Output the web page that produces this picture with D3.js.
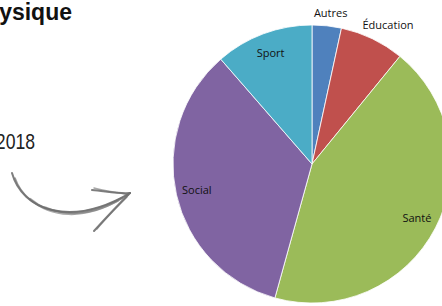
<!DOCTYPE html>
<html lang="fr">
<head>
    <meta charset="UTF-8">
    <title>Répartition 2018</title>
    <script src="https://d3js.org/d3.v7.min.js"></script>
    <style>
        body { margin: 0; background: #fff; }
        svg { display: block; }
    </style>
</head>
<body>
    <svg width="442" height="306"></svg>

    <script>
        // Données (parts en %)
        const categories = ["Autres", "Éducation", "Santé", "Social", "Sport"];
        const values = [3.4, 7.5, 43.4, 34.3, 11.4];
        const colors = ["#4F81BD", "#C0504D", "#9BBB59", "#8064A2", "#4BACC6"];
        const titleText = "ysique";
        const yearText = "2018";

        const svg = d3.select("svg");
        const cx = 312, cy = 164, radius = 139;

        // Titre (coupé à gauche dans l'original)
        svg.append("text")
            .attr("x", 72)
            .attr("y", 20)
            .attr("text-anchor", "end")
            .style("font-family", "'Liberation Sans', Arial, sans-serif")
            .style("font-weight", "bold")
            .style("font-size", "23px")
            .style("fill", "#111")
            .text(titleText);

        // Année en police étroite (simulée par un étirement horizontal)
        svg.append("text")
            .attr("transform", "translate(35,149) scale(0.8,1)")
            .attr("text-anchor", "end")
            .style("font-family", "'Liberation Sans', Arial, sans-serif")
            .style("font-size", "22px")
            .style("fill", "#222")
            .text(yearText);

        // Flèche dessinée à la main
        const arrow = svg.append("g")
            .attr("fill", "none")
            .attr("stroke", "#707070")
            .attr("stroke-linecap", "round");

        const strokes = [
            { d: "M12,173 C22,210 70,228 130,193", w: 2, o: 0.9 },
            { d: "M15,178 C27,212 72,226 128,195", w: 1.6, o: 0.7 },
            { d: "M30,199 C50,216 82,222 122,198", w: 2.4, o: 0.6 },
            { d: "M45,207 C65,216 90,216 118,201", w: 1.8, o: 0.5 },
            { d: "M92,190 C105,191 118,194 130,193", w: 2, o: 0.9 },
            { d: "M94,188 C108,192 120,192 128,195", w: 1.5, o: 0.6 },
            { d: "M130,193 C118,205 104,220 94,231", w: 2, o: 0.9 },
            { d: "M127,197 C116,208 106,218 97,229", w: 1.5, o: 0.6 }
        ];
        arrow.selectAll("path")
            .data(strokes)
            .join("path")
            .attr("d", d => d.d)
            .attr("stroke-width", d => d.w)
            .attr("stroke-opacity", d => d.o);

        // Camembert
        const pie = d3.pie().sort(null).value(d => d)(values);
        const arc = d3.arc().innerRadius(0).outerRadius(radius);

        const g = svg.append("g").attr("transform", `translate(${cx},${cy})`);

        g.selectAll("path")
            .data(pie)
            .join("path")
            .attr("d", arc)
            .attr("fill", (d, i) => colors[i])
            .attr("stroke", "#fff")
            .attr("stroke-width", 0.8);

        // Étiquettes : à l'intérieur pour les grandes parts, à l'extérieur sinon
        const inner = d3.arc().innerRadius(radius * 0.85).outerRadius(radius * 0.85);
        const outer = d3.arc().innerRadius(radius + 13).outerRadius(radius + 13);

        g.selectAll("text")
            .data(pie)
            .join("text")
            .attr("transform", d => {
                const small = d.endAngle - d.startAngle < 0.5;
                const [x, y] = (small ? outer : inner).centroid(d);
                const mid = (d.startAngle + d.endAngle) / 2;
                const dx = small ? Math.sin(mid) * 23 : 0;
                const dy = small ? -Math.sin(mid) * 6 + 1 : 0;
                return `translate(${x + dx},${y + dy})`;
            })
            .attr("text-anchor", "middle")
            .attr("dy", "0.35em")
            .style("font-family", "'Open Sans', 'Noto Sans', sans-serif")
            .style("font-size", "11px")
            .style("fill", "#111")
            .text((d, i) => categories[i]);
    </script>
</body>
</html>
